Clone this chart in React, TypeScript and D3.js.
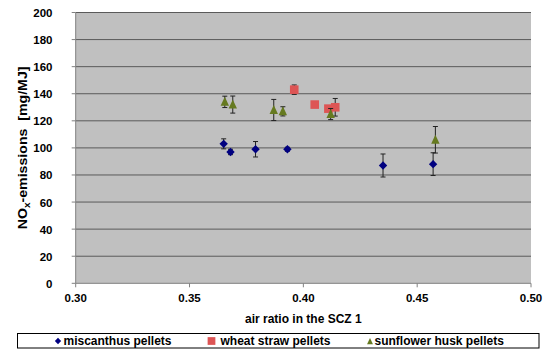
import React from 'react'
import * as d3 from 'd3'

// values
const miscanthusX = [0.365, 0.368, 0.379, 0.393, 0.435, 0.457]
const miscanthusY = [103, 97, 99, 99, 87, 88]
const miscanthusErr = [3.7, 2, 5.7, 1.5, 8.5, 8.4]

const wheatX = [0.396, 0.405, 0.411, 0.414]
const wheatY = [143, 132, 129, 130]
const wheatErr = [3.5, 1.5, 1.5, 6.5]

const sunflowerX = [0.3655, 0.369, 0.387, 0.391, 0.412, 0.458]
const sunflowerY = [134, 132, 128, 127, 125, 106]
const sunflowerErr = [4.2, 6.3, 7.8, 3.4, 4.1, 9.8]

const xTicks = [0.3, 0.35, 0.4, 0.45, 0.5]
const yTicks = [0, 20, 40, 60, 80, 100, 120, 140, 160, 180, 200]

const FONT = '"Liberation Sans", Arial, sans-serif'

type Pt = { x: number; y: number; e: number }
const zip = (xs: number[], ys: number[], es: number[]): Pt[] =>
  xs.map((x, i) => ({ x, y: ys[i], e: es[i] }))

const series = [
  { name: 'miscanthus pellets', color: '#000080', shape: 'diamond', pts: zip(miscanthusX, miscanthusY, miscanthusErr) },
  { name: 'wheat straw pellets', color: '#DD5555', shape: 'square', pts: zip(wheatX, wheatY, wheatErr) },
  { name: 'sunflower husk pellets', color: '#667A20', shape: 'triangle', pts: zip(sunflowerX, sunflowerY, sunflowerErr) },
]

function marker(shape: string, cx: number, cy: number, color: string, s = 1) {
  if (shape === 'diamond') {
    const r = 4.2 * s
    return <path d={`M${cx},${cy - r}L${cx + r},${cy}L${cx},${cy + r}L${cx - r},${cy}Z`} fill={color} />
  }
  if (shape === 'square') {
    const r = 4.3 * s
    return <rect x={cx - r} y={cy - r} width={2 * r} height={2 * r} fill={color} />
  }
  const w = 4.2 * s
  return <path d={`M${cx},${cy - 5 * s}L${cx + w},${cy + 4 * s}L${cx - w},${cy + 4 * s}Z`} fill={color} />
}

export default function App() {
  const width = 547
  const height = 349
  const left = 75.7
  const right = 531
  const top = 12.5
  const bottom = 283.3

  const x = d3.scaleLinear().domain([0.3, 0.5]).range([left, right])
  const y = d3.scaleLinear().domain([0, 200]).range([bottom, top])

  return (
    <svg width={width} height={height} style={{ position: 'absolute', left: 0, top: 0, fontFamily: FONT }}>
      <rect width={width} height={height} fill="#fff" />
      <rect x={left} y={top} width={right - left} height={bottom - top} fill="#C0C0C0" />

      {yTicks.filter(t => t > 0).map(t => (
        <line key={t} x1={left} x2={right} y1={y(t)} y2={y(t)} stroke="#5a5a5a" strokeWidth={1} />
      ))}

      {/* axes */}
      <line x1={left} x2={left} y1={top} y2={bottom} stroke="#808080" />
      <line x1={left} x2={right} y1={bottom} y2={bottom} stroke="#808080" />
      {yTicks.map(t => (
        <g key={t}>
          <line x1={left - 4} x2={left} y1={y(t)} y2={y(t)} stroke="#808080" />
          <text x={52.5} y={y(t) + 4.5} textAnchor="end" fontSize={11.5} fontWeight="bold">{t}</text>
        </g>
      ))}
      {xTicks.map(t => (
        <g key={t}>
          <line x1={x(t)} x2={x(t)} y1={bottom} y2={bottom + 4} stroke="#808080" />
          <text x={x(t)} y={301.5} textAnchor="middle" fontSize={11.5} fontWeight="bold">{d3.format('.2f')(t)}</text>
        </g>
      ))}

      <text x={(left + right) / 2} y={322.5} textAnchor="middle" fontSize={12} fontWeight="bold">air ratio in the SCZ 1</text>
      <text
        transform={`translate(27,${(top + bottom) / 2}) rotate(-90) scale(1.18,1)`}
        textAnchor="middle" fontSize={12} fontWeight="bold" style={{ whiteSpace: 'pre' }}
      >
        NO<tspan fontSize={8.5} dy={3}>x</tspan><tspan dy={-3}>-emissions  [mg/MJ]</tspan>
      </text>

      {/* points with error bars */}
      {series.map(s => (
        <g key={s.name}>
          {s.pts.map((p, i) => (
            <g key={i} stroke="#222" strokeWidth={1}>
              <line x1={x(p.x)} x2={x(p.x)} y1={y(p.y + p.e)} y2={y(p.y - p.e)} />
              <line x1={x(p.x) - 2.5} x2={x(p.x) + 2.5} y1={y(p.y + p.e)} y2={y(p.y + p.e)} />
              <line x1={x(p.x) - 2.5} x2={x(p.x) + 2.5} y1={y(p.y - p.e)} y2={y(p.y - p.e)} />
            </g>
          ))}
          {s.pts.map((p, i) => (
            <g key={'m' + i}>{marker(s.shape, x(p.x), y(p.y), s.color)}</g>
          ))}
        </g>
      ))}

      {/* legend */}
      <rect x={17.5} y={333.5} width={521.5} height={14.5} fill="#fff" stroke="#000" strokeWidth={1} />
      {marker('diamond', 58, 341, series[0].color, 0.75)}
      <text x={63.5} y={345.2} fontSize={12} fontWeight="bold">miscanthus pellets</text>
      {marker('square', 211.5, 341, series[1].color, 0.9)}
      <text x={220.5} y={345.2} fontSize={12} fontWeight="bold">wheat straw pellets</text>
      {marker('triangle', 370, 341.5, series[2].color, 0.7)}
      <text x={374.5} y={345.2} fontSize={12} fontWeight="bold">sunflower husk pellets</text>
    </svg>
  )
}
